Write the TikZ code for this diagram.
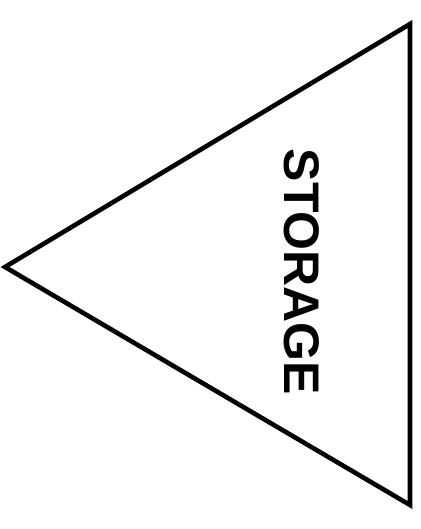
\documentclass[tikz,border=0pt]{standalone}
\usepackage{fontspec}
\setmainfont{Liberation Sans}
\begin{document}
\begin{tikzpicture}[x=1pt,y=1pt,
  shapeline/.style={draw=black,line width=4.6pt,line join=miter},
  labeltext/.style={font=\fontsize{50}{50}\selectfont\bfseries,rotate=-90,inner sep=0pt}]
\useasboundingbox (0,0) rectangle (420,529);
\coordinate (apex) at (5,262);
\coordinate (top) at (410,505);
\coordinate (bot) at (410,24);
\draw[shapeline] (apex) -- (top) -- (bot) -- cycle;
\node[labeltext] (lbl) at (302,257) {STORAGE};
\end{tikzpicture}
\end{document}
